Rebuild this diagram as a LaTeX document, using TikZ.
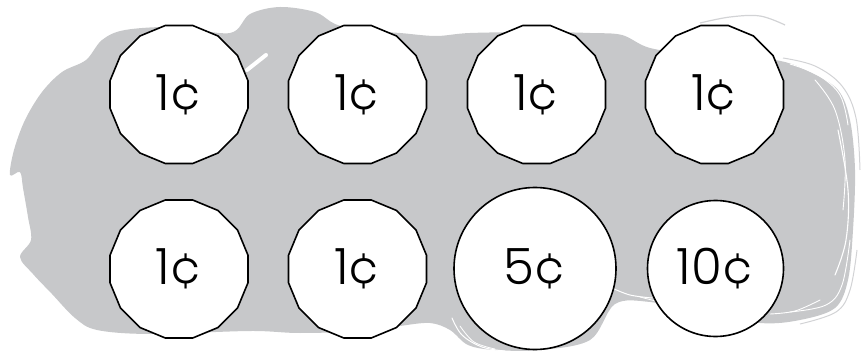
\documentclass[tikz,border=0pt]{standalone}
\usepackage{fontspec}
\newfontfamily\coinfont{Poppins Light}
\usetikzlibrary{shapes.geometric}
\definecolor{blobgray}{HTML}{C7C8CA}
\tikzset{
  coinbase/.style={draw=black, line width=1.6pt, fill=white, inner sep=0pt,
    font=\coinfont\fontsize{50}{50}\selectfont},
  penny/.style={coinbase, regular polygon, regular polygon sides=16, minimum size=140.7pt},
  roundcoin/.style={coinbase, circle, minimum size=#1},
  streak/.style={draw=white, line cap=round},
}
\begin{document}
\begin{tikzpicture}[x=1pt,y=-1pt]
\useasboundingbox (0,0) rectangle (862,358);
% gray brushed background
\fill[blobgray] plot[smooth cycle, tension=0.55] coordinates {
 (10,175) (14,150) (25,120) (42,92) (62,72) (86,60) (102,40) (125,30) (175,27)
 (230,33) (250,14) (280,7) (315,12) (335,24) (360,30) (400,33) (436,36)
 (470,33) (540,32) (590,33) (622,35) (650,48) (700,55) (775,60) (810,72)
 (838,90) (850,120) (855,170) (853,230) (848,280) (835,308) (800,320)
 (760,323) (700,312) (650,302) (615,304) (590,340) (540,350) (495,350)
 (468,345) (450,330) (430,323) (400,326) (370,331) (300,333) (250,331)
 (150,334) (97,330) (75,318) (52,294) (33,274) (20,257) (31,240) (28,217)
 (23,188) (20,172)
};
% faint outer strokes
\draw[blobgray!80, line width=1.2pt] plot[smooth, tension=0.6] coordinates {(700,23) (730,17) (760,16) (785,25)};
\draw[blobgray!80, line width=1pt] plot[smooth, tension=0.6] coordinates {(783,58) (815,66) (842,86) (856,118) (860,170)};
\draw[blobgray!80, line width=1pt] plot[smooth, tension=0.6] coordinates {(857,250) (850,290) (836,312) (800,324)};
% white brush streaks
\draw[streak, line width=4pt] (247,70) -- (266,55);
\draw[streak, line width=0.9pt] plot[smooth, tension=0.6] coordinates {(790,64) (818,75) (840,95) (848,125)};
\draw[streak, line width=0.9pt] plot[smooth, tension=0.6] coordinates {(815,80) (835,110) (845,160) (843,210)};
\draw[streak, line width=1.1pt] plot[smooth, tension=0.6] coordinates {(838,130) (848,190) (846,240) (835,275)};
\draw[streak, line width=0.9pt] plot[smooth, tension=0.6] coordinates {(850,240) (842,285) (826,305) (790,312)};
\draw[streak, line width=0.9pt] plot[smooth, tension=0.6] coordinates {(820,300) (795,311) (770,314)};
\draw[streak, line width=1pt] plot[smooth, tension=0.6] coordinates {(452,318) (462,335) (482,347) (505,351)};
\draw[streak, line width=0.8pt] plot[smooth, tension=0.6] coordinates {(460,326) (474,342) (495,349)};
\draw[streak, line width=1pt] plot[smooth, tension=0.6] coordinates {(612,288) (630,295) (652,298)};
\draw[streak, line width=0.8pt] plot[smooth, tension=0.6] coordinates {(640,297) (660,302) (680,306)};
% coins
\node[penny] (p1) at (179,94.5) {1¢};
\node[penny] (p2) at (357.5,94.5) {1¢};
\node[penny] (p3) at (536.5,94.5) {1¢};
\node[penny] (p4) at (714.5,94.5) {1¢};
\node[penny] (p5) at (179,269) {1¢};
\node[penny] (p6) at (357.5,269) {1¢};
\node[roundcoin=162pt] (n5) at (535,268.5) {5¢};
\node[roundcoin=136pt] (d10) at (715.5,268.5) {10¢};
\end{tikzpicture}
\end{document}
